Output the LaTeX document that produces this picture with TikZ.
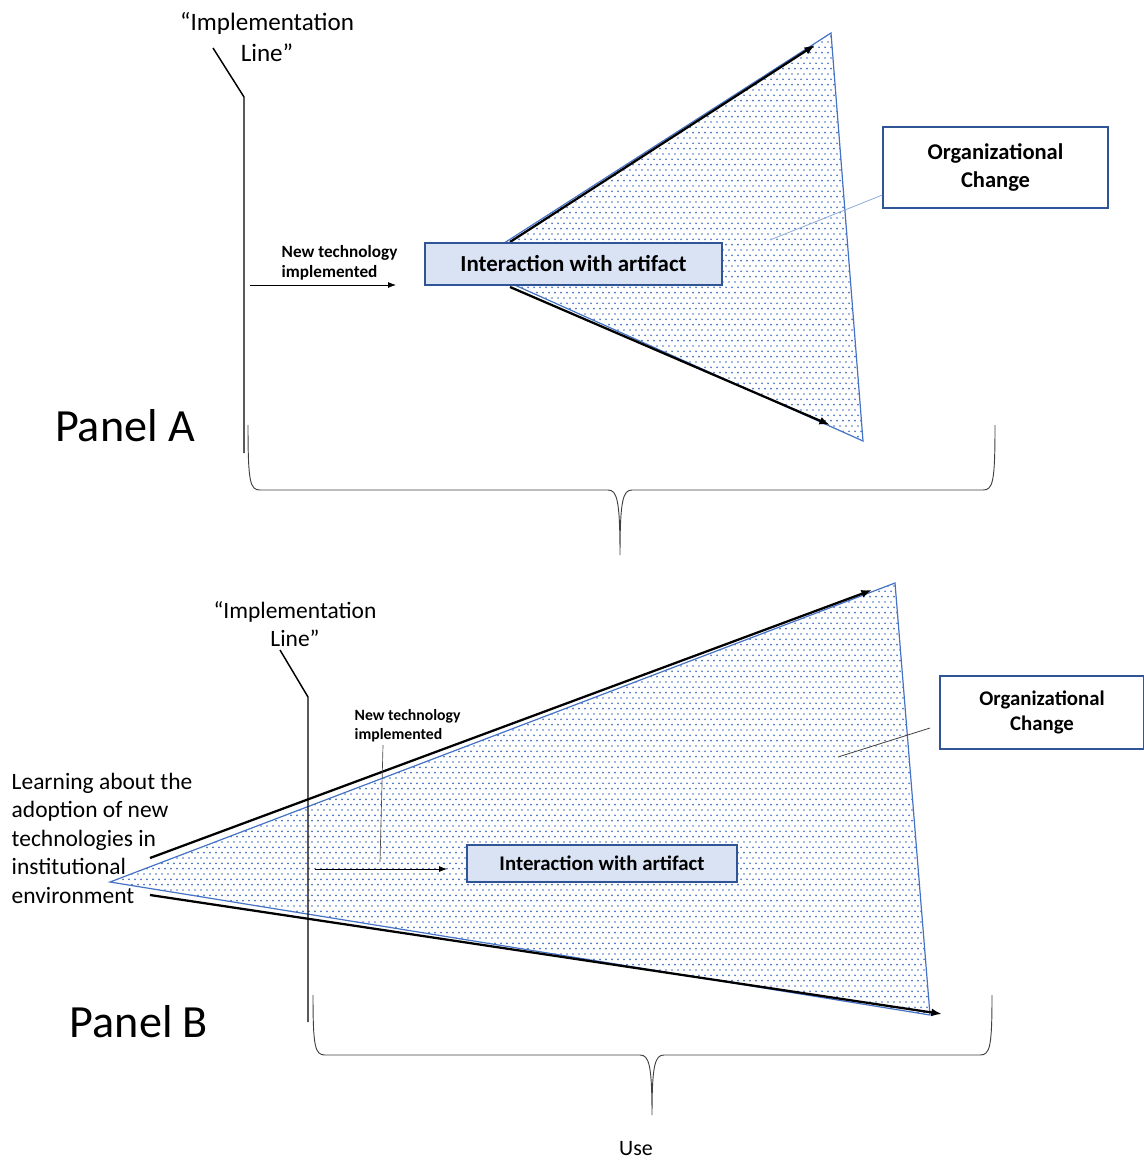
\documentclass[tikz,border=0pt]{standalone}
\usepackage{fontspec}
\setmainfont{Carlito}
\usetikzlibrary{arrows.meta,patterns}
\definecolor{officeblue}{HTML}{4472C4}
\definecolor{boxblue}{HTML}{2F5597}
\definecolor{boxfill}{HTML}{DAE3F3}
\definecolor{calloutblue}{HTML}{8FAADC}
% staggered dot fill for the two fans
\pgfdeclarepatternformonly{bluedots}{\pgfqpoint{-0.8pt}{-0.8pt}}{\pgfqpoint{3.1pt}{4.8pt}}{\pgfqpoint{4.5pt}{8pt}}{%
  \pgfpathcircle{\pgfqpoint{0pt}{0pt}}{0.7pt}%
  \pgfpathcircle{\pgfqpoint{2.25pt}{4pt}}{0.7pt}%
  \pgfusepath{fill}}
\tikzset{
  fan/.style={draw=officeblue, line width=0.9pt, pattern=bluedots, pattern color=officeblue},
  flowarrow/.style={line width=1.7pt, -{Latex[length=8pt,width=6pt]}},
  thinarrow/.style={line width=0.6pt, -{Latex[length=6pt,width=4.5pt]}},
  implline/.style={line width=1.1pt},
  brace/.style={line width=0.7pt, draw=black!75},
  interbox/.style={draw=boxblue, fill=boxfill, line width=1pt, font=\bfseries},
  orgbox/.style={draw=boxblue, fill=white, line width=1pt, align=center, font=\bfseries},
  panellabel/.style={font=\fontsize{34.6}{40}\selectfont},
  x=0.75pt, y=-0.75pt
}
\begin{document}
\begin{tikzpicture}
\useasboundingbox (0,0) rectangle (1143,1162);

% ---------------- Panel A ----------------
\path[fan] (470,265) -- (831,33) -- (863,441) -- cycle;
\coordinate (a-top-start) at (510,242);
\coordinate (a-top-end) at (815,45);
\coordinate (a-bot-start) at (510,287);
\coordinate (a-bot-end) at (830,425);
\draw[flowarrow] (a-top-start) -- (a-top-end);
\draw[flowarrow] (a-bot-start) -- (a-bot-end);

\node[interbox, minimum width=222.75pt, minimum height=31.5pt,
      font=\bfseries\fontsize{17.2}{20}\selectfont] (a-inter) at (573.5,264) {Interaction with artifact};

\node[orgbox, minimum width=168.75pt, minimum height=60.75pt,
      font=\bfseries\fontsize{16.9}{20.3}\selectfont] (a-org) at (995.5,167.5) {Organizational\\Change};
\coordinate (a-org-tip) at (770,240);
\draw[calloutblue, line width=0.6pt] (a-org.west |- 0,195) -- (a-org-tip);

\node[align=center, font=\fontsize{18.8}{23.25}\selectfont] (a-impl) at (267,37) {“Implementation\\Line”};
\coordinate (a-impl-slant) at (213,48);
\coordinate (a-impl-knee) at (244,97);
\coordinate (a-impl-foot) at (244,453);
\draw[implline] (a-impl-slant) -- (a-impl-knee) -- (a-impl-foot);

\node[anchor=west, align=left, font=\bfseries\fontsize{12.9}{15}\selectfont] (a-newtech) at (277,263) {New technology\\implemented};
\coordinate (a-arrow-start) at (250,285);
\coordinate (a-arrow-end) at (396,285);
\draw[thinarrow] (a-arrow-start) -- (a-arrow-end);

\node[panellabel] (a-panel) at (125,426) {Panel A};

% brace under panel A
\draw[brace] (248,425) .. controls (248,482) and (250,490) .. (260,490)
  -- (608,490) .. controls (617,490) and (620,500) .. (620,555)
  .. controls (620,500) and (623,490) .. (632,490)
  -- (983,490) .. controls (993,490) and (995,482) .. (995,425);

% ---------------- Panel B ----------------
\path[fan] (110,882) -- (895,583) -- (930,1015) -- cycle;
\coordinate (b-top-start) at (150,858);
\coordinate (b-top-end) at (872,590);
\coordinate (b-bot-start) at (150,895);
\coordinate (b-bot-end) at (942,1014);
\draw[flowarrow] (b-top-start) -- (b-top-end);
\draw[flowarrow] (b-bot-start) -- (b-bot-end);

\node[interbox, minimum width=202.5pt, minimum height=27.75pt,
      font=\bfseries\fontsize{15.6}{18}\selectfont] (b-inter) at (602,863.5) {Interaction with artifact};

\node[orgbox, minimum width=153pt, minimum height=54.75pt,
      font=\bfseries\fontsize{15.6}{18.75}\selectfont] (b-org) at (1042,712.5) {Organizational\\Change};
\coordinate (b-org-tip) at (838,757);
\draw[black!75, line width=0.6pt] (930,728) -- (b-org-tip);

\node[align=center, font=\fontsize{17.6}{21}\selectfont] (b-impl) at (295,624) {“Implementation\\Line”};
\coordinate (b-impl-slant) at (280,650);
\coordinate (b-impl-knee) at (308,697);
\coordinate (b-impl-foot) at (308,1022);
\draw[implline] (b-impl-slant) -- (b-impl-knee) -- (b-impl-foot);

\node[anchor=west, align=left, font=\bfseries\fontsize{11.8}{14.25}\selectfont] (b-newtech) at (350,726) {New technology\\implemented};
\coordinate (b-callout-foot) at (380,862);
\draw[black!70, line width=0.5pt] (383,745) -- (b-callout-foot);
\coordinate (b-arrow-start) at (315,869);
\coordinate (b-arrow-end) at (447,869);
\draw[thinarrow] (b-arrow-start) -- (b-arrow-end);

\node[anchor=west, align=left, font=\fontsize{17.6}{21.4}\selectfont] (b-learning) at (7,838)
  {Learning about the\\adoption of new\\technologies in\\institutional\\environment};

\node[panellabel] (b-panel) at (139,1022) {Panel B};

% brace under panel B
\draw[brace] (313,995) .. controls (313,1047) and (315,1055) .. (325,1055)
  -- (640,1055) .. controls (649,1055) and (652,1065) .. (652,1115)
  .. controls (652,1065) and (655,1055) .. (664,1055)
  -- (980,1055) .. controls (990,1055) and (992,1047) .. (992,995);

\node[font=\fontsize{16.5}{20}\selectfont, inner sep=0.5pt, text depth=0pt, anchor=base] (b-use) at (636,1155) {Use};
\end{tikzpicture}
\end{document}
